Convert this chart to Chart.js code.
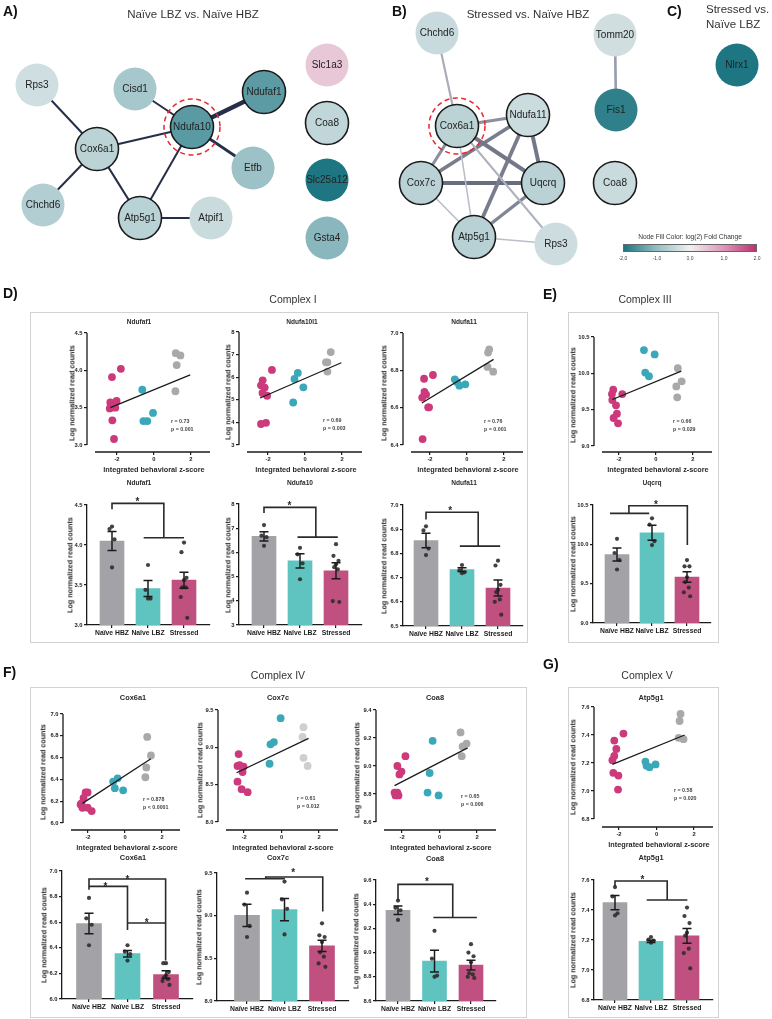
<!DOCTYPE html>
<html>
<head>
<meta charset="utf-8">
<script src="https://cdn.jsdelivr.net/npm/chart.js@4.4.0/dist/chart.umd.min.js"></script>
<style>
  body { margin: 0; background: #fff; font-family: "Liberation Sans", Arial, sans-serif; }
  #fig { position: relative; width: 772px; height: 1019px; overflow: hidden; background: #fff; }
  .t { position: absolute; white-space: nowrap; color: #2a2a2a; line-height: 1; will-change: transform; }
  .box { position: absolute; border: 1px solid #d2d2d2; box-sizing: border-box; }
  canvas { position: absolute; }
</style>
</head>
<body>
<div id="fig"></div>
<script>
// ---------- data ----------
const GROUPS = ['Naïve HBZ', 'Naïve LBZ', 'Stressed'];
const Z_TICKS = [-2, 0, 2];

// A) Naive LBZ vs Naive HBZ network (layout in px, log2 fold change, outlined = module member)
const netA_genes = ['Rps3', 'Cisd1', 'Ndufaf1', 'Ndufa10', 'Cox6a1', 'Etfb', 'Chchd6', 'Atp5g1', 'Atpif1', 'Slc1a3', 'Coa8', 'Slc25a12', 'Gsta4'];
const netA_x = [37, 135, 264, 192, 97, 253, 43, 140, 211, 327, 327, 327, 327];
const netA_y = [85, 89, 92, 127, 149, 168, 205, 218, 218, 65, 123, 180, 238];
const netA_log2fc = [-0.37, -0.82, -1.48, -1.5, -0.58, -0.93, -0.69, -0.61, -0.43, 0.47, -0.53, -2.0, -1.1];
const netA_outlined = [0, 0, 1, 1, 1, 0, 0, 1, 0, 0, 1, 0, 0];
const netA_edges = [['Rps3', 'Cox6a1', 0.15], ['Cisd1', 'Ndufa10', 0.15], ['Ndufaf1', 'Ndufa10', 1.0], ['Cox6a1', 'Ndufa10', 0.25],
  ['Ndufa10', 'Etfb', 0.4], ['Ndufa10', 'Atp5g1', 0.15], ['Cox6a1', 'Chchd6', 0.15], ['Cox6a1', 'Atp5g1', 0.2], ['Atp5g1', 'Atpif1', 0.15]];

// B) Stressed vs Naive HBZ network
const netB_genes = ['Chchd6', 'Tomm20', 'Fis1', 'Cox6a1', 'Ndufa11', 'Cox7c', 'Uqcrq', 'Coa8', 'Atp5g1', 'Rps3'];
const netB_x = [437, 615, 616, 457, 528, 421, 543, 615, 474, 556];
const netB_y = [33, 35, 110, 126, 115, 183, 183, 183, 237, 244];
const netB_log2fc = [-0.44, -0.36, -1.86, -0.58, -0.41, -0.6, -0.6, -0.43, -0.63, -0.39];
const netB_outlined = [0, 0, 0, 1, 1, 1, 1, 1, 1, 0];
const netB_edges = [['Chchd6', 'Cox6a1', 0.3], ['Tomm20', 'Fis1', 0.45], ['Cox6a1', 'Ndufa11', 0.6], ['Cox6a1', 'Cox7c', 0.6],
  ['Cox6a1', 'Uqcrq', 0.85], ['Cox6a1', 'Atp5g1', 0.12], ['Cox6a1', 'Rps3', 0.25], ['Ndufa11', 'Cox7c', 0.8], ['Ndufa11', 'Uqcrq', 0.85],
  ['Ndufa11', 'Atp5g1', 0.8], ['Cox7c', 'Uqcrq', 0.95], ['Cox7c', 'Atp5g1', 0.12], ['Uqcrq', 'Atp5g1', 0.7], ['Atp5g1', 'Rps3', 0.1]];

// C) Stressed vs Naive LBZ
const netC_genes = ['Nlrx1'];
const netC_x = [737];
const netC_y = [65];
const netC_log2fc = [-2.0];
const netC_outlined = [0];

const FC_LEGEND_TICKS = ['-2,0', '-1,0', '0,0', '1,0', '2,0'];

// Scatter data: [integrated behavioral z-score, log normalized read counts]
const ndufaf1_sc_stressed = [[-2.27, 3.91], [-1.79, 4.02], [-2.36, 3.57], [-2.02, 3.59], [-2.39, 3.49], [-2.09, 3.5], [-2.25, 3.33], [-2.16, 3.08]];
const ndufaf1_sc_lbz = [[-0.63, 3.74], [-0.05, 3.43], [-0.57, 3.32], [-0.36, 3.32]];
const ndufaf1_sc_hbz = [[1.18, 4.23], [1.43, 4.2], [1.23, 4.07], [1.16, 3.72]];
const ndufaf1_fit = [[-2.36, 3.5], [1.96, 3.94]];

const ndufa10l1_sc_stressed = [[-1.79, 6.32], [-2.29, 5.86], [-2.38, 5.64], [-2.18, 5.54], [-2.3, 5.3], [-2.05, 5.18], [-2.38, 3.93], [-2.11, 3.98]];
const ndufa10l1_sc_lbz = [[-0.39, 6.19], [-0.57, 5.92], [-0.09, 5.55], [-0.64, 4.88]];
const ndufa10l1_sc_hbz = [[1.39, 7.11], [1.13, 6.66], [1.21, 6.66], [1.21, 6.25]];
const ndufa10l1_fit = [[-2.43, 5.08], [1.96, 6.64]];

const ndufa11_sc_stressed = [[-2.32, 6.755], [-1.84, 6.775], [-2.3, 6.684], [-2.21, 6.67], [-2.42, 6.654], [-2.1, 6.602], [-2.05, 6.602], [-2.4, 6.432]];
const ndufa11_sc_lbz = [[-0.66, 6.752], [-0.54, 6.738], [-0.41, 6.718], [-0.09, 6.725]];
const ndufa11_sc_hbz = [[1.2, 6.912], [1.14, 6.895], [1.11, 6.818], [1.42, 6.793]];
const ndufa11_fit = [[-2.44, 6.625], [1.44, 6.859]];

const uqcrq_sc_stressed = [[-2.31, 9.775], [-2.38, 9.715], [-1.82, 9.715], [-2.36, 9.633], [-2.16, 9.56], [-2.11, 9.445], [-2.29, 9.385], [-2.05, 9.312]];
const uqcrq_sc_lbz = [[-0.65, 10.32], [-0.07, 10.26], [-0.58, 10.01], [-0.38, 9.96]];
const uqcrq_sc_hbz = [[1.18, 10.07], [1.39, 9.89], [1.1, 9.82], [1.15, 9.67]];
const uqcrq_fit = [[-2.36, 9.64], [1.37, 10.03]];

const cox6a1_sc_stressed = [[-2.13, 6.28], [-2.02, 6.28], [-2.24, 6.23], [-2.35, 6.18], [-2.4, 6.17], [-2.3, 6.14], [-2.02, 6.14], [-1.8, 6.11]];
const cox6a1_sc_lbz = [[-0.64, 6.38], [-0.4, 6.41], [-0.55, 6.32], [-0.1, 6.3]];
const cox6a1_sc_hbz = [[1.2, 6.79], [1.4, 6.62], [1.15, 6.51], [1.1, 6.42]];
const cox6a1_fit = [[-2.3, 6.18], [1.4, 6.59]];

const cox7c_sc_stressed = [[-2.29, 8.91], [-2.35, 8.75], [-2.24, 8.76], [-2.03, 8.74], [-2.08, 8.67], [-2.35, 8.54], [-2.13, 8.44], [-1.81, 8.4]];
const cox7c_sc_lbz = [[-0.05, 9.39], [-0.41, 9.07], [-0.59, 9.04], [-0.64, 8.78]];
const cox7c_sc_hbz = [[1.17, 9.27], [1.12, 9.14], [1.17, 8.86], [1.39, 8.75]];
const cox7c_fit = [[-2.4, 8.66], [1.44, 9.12]];

const coa8_sc_stressed = [[-1.82, 9.07], [-2.25, 9.0], [-2.03, 8.96], [-2.14, 8.94], [-2.4, 8.81], [-2.25, 8.81], [-2.19, 8.79], [-2.35, 8.79]];
const coa8_sc_lbz = [[-0.37, 9.18], [-0.53, 8.95], [-0.64, 8.81], [-0.05, 8.79]];
const coa8_sc_hbz = [[1.12, 9.24], [1.23, 9.14], [1.44, 9.16], [1.18, 9.07]];
const coa8_fit = [[-2.4, 8.86], [1.5, 9.13]];

const atp5g1_sc_stressed = [[-1.76, 7.41], [-2.25, 7.36], [-2.14, 7.3], [-2.25, 7.25], [-2.35, 7.22], [-2.3, 7.13], [-2.03, 7.11], [-2.05, 7.01]];
const atp5g1_sc_lbz = [[-0.59, 7.21], [-0.53, 7.18], [-0.37, 7.17], [-0.05, 7.19]];
const atp5g1_sc_hbz = [[1.28, 7.55], [1.23, 7.5], [1.18, 7.38], [1.44, 7.37]];
const atp5g1_fit = [[-2.35, 7.19], [1.5, 7.4]];

// Bar data: group means, SEM, individual animals [HBZ, LBZ, Stressed]
const ndufaf1_means = [4.05, 3.455, 3.56];
const ndufaf1_sem = [0.12, 0.1, 0.1];
const ndufaf1_animals = [[4.23, 4.2, 4.07, 3.72], [3.75, 3.44, 3.33, 3.33], [4.03, 3.91, 3.59, 3.56, 3.47, 3.47, 3.35, 3.09]];
const ndufaf1_sig = [[[0, 4.446], [0, 4.52], [1.44, 4.52], [1.44, 4.09]], [[0.88, 4.09], [2.0, 4.09]]];
const ndufaf1_stars = [[0.71, 4.57]];

const ndufa10_means = [6.66, 5.65, 5.24];
const ndufa10_sem = [0.19, 0.29, 0.33];
const ndufa10_animals = [[7.13, 6.69, 6.63, 6.27], [6.19, 5.92, 5.55, 4.89], [6.34, 5.86, 5.65, 5.51, 5.39, 5.3, 3.99, 3.95]];
const ndufa10_sig = [[[0, 7.627], [0, 7.862], [1.44, 7.862], [1.44, 6.633]], [[0.93, 6.633], [2.05, 6.633]]];
const ndufa10_stars = [[0.71, 8.04]];

const ndufa11_means = [6.853, 6.733, 6.657];
const ndufa11_sem = [0.03, 0.008, 0.033];
const ndufa11_animals = [[6.912, 6.895, 6.82, 6.793], [6.752, 6.73, 6.722, 6.718], [6.77, 6.75, 6.67, 6.65, 6.64, 6.61, 6.6, 6.547]];
const ndufa11_sig = [[[0, 6.94], [0, 6.97], [1.45, 6.97], [1.45, 6.83]], [[0.94, 6.83], [2.06, 6.83]]];
const ndufa11_stars = [[0.67, 6.986]];

const uqcrq_means = [9.87, 10.147, 9.585];
const uqcrq_sem = [0.083, 0.095, 0.066];
const uqcrq_animals = [[10.07, 9.89, 9.8, 9.68], [10.33, 10.25, 10.04, 9.99], [9.8, 9.72, 9.72, 9.58, 9.52, 9.45, 9.39, 9.34]];
const uqcrq_sig = [[[-0.2, 10.394], [0.92, 10.394]], [[0.34, 10.394], [0.34, 10.49], [2.01, 10.49], [2.01, 9.99]]];
const uqcrq_stars = [[1.11, 10.54]];

const cox6a1_means = [6.59, 6.354, 6.19];
const cox6a1_sem = [0.08, 0.025, 0.03];
const cox6a1_animals = [[6.79, 6.63, 6.58, 6.42], [6.42, 6.37, 6.35, 6.3], [6.28, 6.28, 6.21, 6.185, 6.17, 6.155, 6.14, 6.11]];
const cox6a1_sig = [[[0, 6.854], [0, 6.9375], [1.99, 6.9375], [1.99, 6.3]], [[0, 6.88], [1, 6.88], [1, 6.54]], [[1, 6.594], [1.99, 6.594]]];
const cox6a1_stars = [[1.0, 6.953], [0.43, 6.898], [1.5, 6.615]];

const cox7c_means = [9.003, 9.07, 8.646];
const cox7c_sem = [0.13, 0.13, 0.065];
const cox7c_animals = [[9.27, 9.13, 8.88, 8.75], [9.4, 9.19, 9.08, 8.78], [8.91, 8.77, 8.75, 8.69, 8.57, 8.52, 8.44, 8.4]];
const cox7c_sig = [[[-0.05, 9.433], [1.01, 9.433]], [[0.5, 9.433], [0.5, 9.453], [2.02, 9.453], [2.02, 9.05]]];
const cox7c_stars = [[1.23, 9.54]];

const coa8_means = [9.35, 8.93, 8.897];
const coa8_sem = [0.035, 0.09, 0.04];
const coa8_animals = [[9.43, 9.37, 9.35, 9.27], [9.18, 8.95, 8.81, 8.8], [9.07, 9.0, 8.97, 8.92, 8.83, 8.82, 8.8, 8.79]];
const coa8_sig = [[[0, 9.434], [0, 9.564], [1.5, 9.564], [1.5, 9.29]], [[0.97, 9.29], [2.16, 9.29]]];
const coa8_stars = [[0.79, 9.605]];

const atp5g1_means = [7.449, 7.191, 7.227];
const atp5g1_sem = [0.048, 0.008, 0.049];
const atp5g1_animals = [[7.553, 7.49, 7.378, 7.364], [7.22, 7.202, 7.196, 7.182], [7.416, 7.36, 7.313, 7.249, 7.229, 7.142, 7.113, 7.011]];
const atp5g1_sig = [[[0, 7.556], [0, 7.593], [1.45, 7.593], [1.45, 7.467]], [[0.88, 7.467], [2.01, 7.467]]];
const atp5g1_stars = [[0.76, 7.618]];

// ---------- styling ----------
const INK = '#1b1b1b';
const FONT = '"Liberation Sans", Arial, sans-serif';
const PT_HBZ = '#a9a9ab';
const PT_HBZ_LIGHT = '#cfcfd1';
const PT_LBZ = '#3aa8b8';
const PT_STRESSED = '#cc3a7c';
const BAR_COLORS = ['#a3a3a7', '#5fc3c0', '#c0507f'];
const DOT_JITTER = [0, -0.07, 0.07, 0, -0.05, 0.05, -0.09, 0.09];
const FC_STOPS = [[-2, [30, 118, 130]], [-1, [150, 190, 196]], [0, [240, 240, 240]], [1, [222, 152, 186]], [2, [192, 48, 110]]];

Chart.defaults.font.family = FONT;

function fcColor(v) {
  for (let i = 0; i < FC_STOPS.length - 1; i++) {
    const [a, ca] = FC_STOPS[i];
    const [b, cb] = FC_STOPS[i + 1];
    if (v <= b || i === FC_STOPS.length - 2) {
      const t = Math.max(0, Math.min(1, (v - a) / (b - a)));
      const c = ca.map((x, k) => Math.round(x + (cb[k] - x) * t));
      return `rgb(${c[0]},${c[1]},${c[2]})`;
    }
  }
}

const fig = document.getElementById('fig');

function addText(str, x, y, size, o = {}) {
  const d = document.createElement('div');
  d.className = 't';
  d.textContent = str;
  d.style.fontSize = size + 'px';
  if (o.bold) d.style.fontWeight = 'bold';
  if (o.color) d.style.color = o.color;
  d.style.left = x + 'px';
  d.style.top = y + 'px';
  const ax = o.align === 'left' ? '0' : '-50%';
  d.style.transform = `translate(${ax}, -50%)` + (o.rotate ? ` rotate(${o.rotate}deg)` : '');
  fig.appendChild(d);
}

function addBox(l, t, r, b) {
  const d = document.createElement('div');
  d.className = 'box';
  Object.assign(d.style, { left: l + 'px', top: t + 'px', width: (r - l) + 'px', height: (b - t) + 'px' });
  fig.appendChild(d);
}

function addCanvas(l, t, w, h) {
  const c = document.createElement('canvas');
  c.width = w;
  c.height = h;
  c.style.left = l + 'px';
  c.style.top = t + 'px';
  fig.appendChild(c);
  return c;
}

// ---------- plugins ----------
const nodePlugin = {
  id: 'nodeLabels',
  afterDatasetsDraw(chart) {
    const ctx = chart.ctx;
    chart.data.datasets.forEach((ds, i) => {
      if (!ds.nodeNames) return;
      const meta = chart.getDatasetMeta(i);
      ctx.save();
      ctx.font = `10px ${FONT}`;
      ctx.fillStyle = '#222';
      ctx.textAlign = 'center';
      ctx.textBaseline = 'middle';
      meta.data.forEach((pt, k) => {
        ctx.fillText(ds.nodeNames[k], pt.x, pt.y + 0.5);
        if (ds.nodeNames[k] === ds.highlight) {
          ctx.strokeStyle = '#e8282c';
          ctx.lineWidth = 1.5;
          ctx.setLineDash([5, 3.5]);
          ctx.beginPath();
          ctx.arc(pt.x, pt.y, 28, 0, Math.PI * 2);
          ctx.stroke();
          ctx.setLineDash([]);
        }
      });
      ctx.restore();
    });
  }
};

const errorBarPlugin = {
  id: 'errorBars',
  afterDatasetsDraw(chart) {
    const ctx = chart.ctx;
    const y = chart.scales.y;
    chart.data.datasets.forEach((ds, i) => {
      if (!ds.errors) return;
      const meta = chart.getDatasetMeta(i);
      ctx.save();
      ctx.strokeStyle = INK;
      ctx.lineWidth = 1.5;
      meta.data.forEach((bar, k) => {
        const m = ds.data[k].y;
        const e = ds.errors[k];
        const y1 = y.getPixelForValue(m + e);
        const y2 = y.getPixelForValue(m - e);
        ctx.beginPath();
        ctx.moveTo(bar.x, y1); ctx.lineTo(bar.x, y2);
        ctx.moveTo(bar.x - 4.5, y1); ctx.lineTo(bar.x + 4.5, y1);
        ctx.moveTo(bar.x - 4.5, y2); ctx.lineTo(bar.x + 4.5, y2);
        ctx.stroke();
      });
      ctx.restore();
    });
  }
};

const bracketPlugin = {
  id: 'brackets',
  afterDatasetsDraw(chart, args, opts) {
    if (!opts || !opts.paths) return;
    const { ctx, scales: { x, y } } = chart;
    ctx.save();
    ctx.strokeStyle = '#2a2a2a';
    ctx.lineWidth = 1.6;
    opts.paths.forEach(path => {
      ctx.beginPath();
      path.forEach(([a, b], k) => {
        const px = x.getPixelForValue(a);
        const py = y.getPixelForValue(b);
        if (k) ctx.lineTo(px, py); else ctx.moveTo(px, py);
      });
      ctx.stroke();
    });
    ctx.fillStyle = '#2a2a2a';
    ctx.font = `bold 10px ${FONT}`;
    ctx.textAlign = 'center';
    ctx.textBaseline = 'alphabetic';
    opts.stars.forEach(([a, b]) => ctx.fillText('*', x.getPixelForValue(a), y.getPixelForValue(b) + 6));
    ctx.restore();
  }
};

// Prism-style detached axes for the correlation plots
const detachedAxesPlugin = {
  id: 'detachedAxes',
  afterDraw(chart, args, opts) {
    if (!opts || !opts.on) return;
    const { ctx, chartArea: a, scales: { y } } = chart;
    const ticks = y.ticks.map(t => t.value);
    ctx.save();
    ctx.strokeStyle = INK;
    ctx.lineWidth = 1.3;
    ctx.beginPath();
    ctx.moveTo(a.left, y.getPixelForValue(Math.max(...ticks)));
    ctx.lineTo(a.left, y.getPixelForValue(Math.min(...ticks)));
    ctx.moveTo(a.left + opts.gap, a.bottom);
    ctx.lineTo(a.right, a.bottom);
    ctx.stroke();
    ctx.restore();
  }
};

Chart.register(nodePlugin, errorBarPlugin, bracketPlugin, detachedAxesPlugin);

// ---------- builders ----------
function network({ left, top, w, h, genes, xs, ys, fc, outlined, edges = [], edgeColor, edgeWidth, highlight }) {
  const cv = addCanvas(left, top, w, h);
  const idx = Object.fromEntries(genes.map((g, i) => [g, i]));
  const edgeSets = edges.map(([a, b, s]) => ({
    data: [{ x: xs[idx[a]], y: ys[idx[a]] }, { x: xs[idx[b]], y: ys[idx[b]] }],
    showLine: true, pointRadius: 0, borderColor: edgeColor(s), borderWidth: edgeWidth(s), order: 2, clip: false
  }));
  const nodeSet = {
    data: genes.map((g, i) => ({ x: xs[i], y: ys[i] })),
    nodeNames: genes, highlight,
    pointRadius: 21.5,
    pointBackgroundColor: fc.map(fcColor),
    pointBorderColor: INK,
    pointBorderWidth: outlined.map(o => (o ? 1.6 : 0)),
    order: 1, clip: false
  };
  new Chart(cv, {
    type: 'scatter',
    data: { datasets: [nodeSet, ...edgeSets] },
    options: {
      responsive: false, animation: false, events: [],
      layout: { padding: 0, autoPadding: false },
      plugins: { legend: { display: false }, tooltip: { enabled: false } },
      scales: {
        x: { display: false, min: left, max: left + w },
        y: { display: false, min: top, max: top + h, reverse: true }
      }
    }
  });
}

function axisOptions(p, yW, xH, padT, padR, xTickValues, xLabel, xFont, detached) {
  const tickFont = { family: FONT, size: 5.8, weight: 'bold' };
  return {
    responsive: false, animation: false, events: [],
    layout: { padding: { top: padT, right: padR, left: 0, bottom: 0 }, autoPadding: false },
    plugins: {
      legend: { display: false }, tooltip: { enabled: false },
      brackets: p.sig ? { paths: p.sig, stars: p.stars } : {},
      detachedAxes: { on: detached, gap: 8 }
    },
    scales: {
      x: {
        type: 'linear', min: p.xMin, max: p.xMax, offset: false,
        afterBuildTicks: s => { s.ticks = xTickValues.map(v => ({ value: v })); },
        afterFit: s => { s.height = xH; },
        ticks: { font: xFont, color: INK, padding: 1, maxRotation: 0, autoSkip: false, callback: xLabel },
        grid: { offset: false, drawOnChartArea: false, tickLength: 3, color: INK, lineWidth: 1.2 },
        border: { display: !detached, color: INK, width: 1.3 }
      },
      y: {
        min: p.yMin, max: p.yMax,
        afterBuildTicks: s => { s.ticks = p.yTicks.map(v => ({ value: v })); },
        afterFit: s => { s.width = yW; },
        ticks: { font: tickFont, color: INK, padding: 1.5, callback: v => v.toFixed(p.dec) },
        grid: { drawOnChartArea: false, tickLength: 3, color: INK, lineWidth: 1.2 },
        border: { display: !detached, color: INK, width: 1.3 }
      }
    }
  };
}

function scatterPlot(p) {
  const yW = 22, xH = 14, padT = 6, padR = 6;
  const cv = addCanvas(p.L - yW, p.T - padT, yW + p.R - p.L + padR, padT + p.B - p.T + xH);
  const pts = (arr, color) => ({
    data: arr.map(([x, y]) => ({ x, y })), backgroundColor: color, borderWidth: 0, pointRadius: 3.9, order: 2, clip: false
  });
  new Chart(cv, {
    type: 'scatter',
    data: {
      datasets: [
        { data: p.fit.map(([x, y]) => ({ x, y })), showLine: true, borderColor: INK, borderWidth: 1.3, pointRadius: 0, order: 0, clip: false },
        pts(p.hbz, p.hbzColor || PT_HBZ), pts(p.lbz, PT_LBZ), pts(p.stressed, PT_STRESSED)
      ]
    },
    options: axisOptions(p, yW, xH, padT, padR, Z_TICKS, v => String(v), { family: FONT, size: 5.8, weight: 'bold' }, true)
  });
  if (p.title) addText(p.title, p.titleX, p.titleY, p.titleSize, { bold: true });
  addText('Log normalized read counts', p.yTitleX, (p.T + p.B) / 2, 7.2, { bold: true, rotate: -90 });
  addText('Integrated behavioral z-score', (p.L + 10 + p.R) / 2, p.B + 18, 7.3, { bold: true });
  addText(p.r, p.rpX, p.rpY, 5.3, { bold: true, align: 'left', color: '#444' });
  addText(p.p, p.rpX, p.rpY + 7.5, 5.3, { bold: true, align: 'left', color: '#444' });
}

function barPlot(p) {
  const yW = 22, xH = 14, padT = 14, padR = 6;
  const q = Object.assign({}, p, { xMin: (p.L - p.c0) / p.step, xMax: (p.R - p.c0) / p.step });
  const cv = addCanvas(p.L - yW, p.T - padT, yW + p.R - p.L + padR, padT + p.B - p.T + xH);
  const dots = [];
  p.animals.forEach((grp, g) => grp.forEach((v, k) => dots.push({ x: g + DOT_JITTER[k % DOT_JITTER.length], y: v })));
  new Chart(cv, {
    type: 'bar',
    data: {
      datasets: [
        { type: 'bar', data: p.means.map((m, i) => ({ x: i, y: m })), backgroundColor: BAR_COLORS, barThickness: p.barW || 24, errors: p.sem, order: 2 },
        { type: 'scatter', data: dots, backgroundColor: 'rgba(45,45,45,0.9)', borderWidth: 0, pointRadius: 2.1, order: 1, clip: false }
      ]
    },
    options: axisOptions(q, yW, xH, padT, padR, [0, 1, 2], v => GROUPS[v], { family: FONT, size: 6.8, weight: 'bold' }, false)
  });
  addText(p.title, p.titleX, p.titleY, p.titleSize, { bold: true });
  addText('Log normalized read counts', p.yTitleX, (p.T + p.B) / 2, 7.2, { bold: true, rotate: -90 });
}

// ---------- layout ----------
// panel labels and headings
addText('A)', 3, 11, 14, { bold: true, align: 'left', color: '#111' });
addText('B)', 392, 11, 14, { bold: true, align: 'left', color: '#111' });
addText('C)', 667, 11, 14, { bold: true, align: 'left', color: '#111' });
addText('D)', 3, 293, 14, { bold: true, align: 'left', color: '#111' });
addText('E)', 543, 294, 14, { bold: true, align: 'left', color: '#111' });
addText('F)', 3, 672, 14, { bold: true, align: 'left', color: '#111' });
addText('G)', 543, 664, 14, { bold: true, align: 'left', color: '#111' });

addText('Naïve LBZ vs. Naïve HBZ', 193, 15, 11.5, { color: '#333' });
addText('Stressed vs. Naïve HBZ', 528, 15, 11.5, { color: '#333' });
addText('Stressed vs.', 706, 10, 11.5, { align: 'left', color: '#333' });
addText('Naïve LBZ', 706, 25, 11.5, { align: 'left', color: '#333' });

addText('Complex I', 293, 299, 10.5, { color: '#333' });
addText('Complex III', 645, 299, 10.5, { color: '#333' });
addText('Complex IV', 278, 675, 10.5, { color: '#333' });
addText('Complex V', 647, 675, 10.5, { color: '#333' });

addBox(30, 312, 528, 643);
addBox(568, 312, 719, 643);
addBox(30, 687, 527, 1018);
addBox(568, 687, 719, 1018);

// networks
network({
  left: 0, top: 30, w: 390, h: 250, genes: netA_genes, xs: netA_x, ys: netA_y, fc: netA_log2fc, outlined: netA_outlined,
  edges: netA_edges, edgeColor: () => '#272e4a', edgeWidth: s => 1.6 + 2.8 * s, highlight: 'Ndufa10'
});
network({
  left: 390, top: 0, w: 270, h: 275, genes: netB_genes, xs: netB_x, ys: netB_y, fc: netB_log2fc, outlined: netB_outlined,
  edges: netB_edges,
  edgeColor: s => `rgb(${Math.round(198 - 98 * s)},${Math.round(201 - 96 * s)},${Math.round(212 - 90 * s)})`,
  edgeWidth: s => 1.2 + 3.2 * s, highlight: 'Cox6a1'
});
network({
  left: 690, top: 35, w: 82, h: 65, genes: netC_genes, xs: netC_x, ys: netC_y, fc: netC_log2fc, outlined: netC_outlined,
  edgeColor: () => '#000', edgeWidth: () => 1
});

// fold change legend
addText('Node Fill Color: log(2) Fold Change', 690, 237, 6.6, { color: '#333' });
(function () {
  const d = document.createElement('div');
  const stops = FC_STOPS.map(([v, c]) => `rgb(${c.join(',')}) ${(v + 2) * 25}%`).join(', ');
  Object.assign(d.style, {
    position: 'absolute', left: '623px', top: '244px', width: '134px', height: '8px',
    background: `linear-gradient(to right, ${stops})`, border: '0.5px solid #666', boxSizing: 'border-box'
  });
  fig.appendChild(d);
  FC_LEGEND_TICKS.forEach((t, i) => addText(t, 623 + i * 33.5, 258, 5, { color: '#444' }));
})();

// Complex I scatter
scatterPlot({ L: 87, R: 210, T: 333, B: 452, xMin: -3.62, xMax: 3.03, yMin: 2.906, yMax: 4.5, yTicks: [3.0, 3.5, 4.0, 4.5], dec: 1,
  stressed: ndufaf1_sc_stressed, lbz: ndufaf1_sc_lbz, hbz: ndufaf1_sc_hbz, fit: ndufaf1_fit,
  title: 'Ndufaf1', titleX: 139, titleY: 322, titleSize: 6.6, yTitleX: 72, r: 'r = 0.73', p: 'p = 0.001', rpX: 171, rpY: 422 });
scatterPlot({ L: 239, R: 362, T: 332, B: 452, xMin: -3.57, xMax: 3.08, yMin: 2.69, yMax: 8, yTicks: [3, 4, 5, 6, 7, 8], dec: 0,
  stressed: ndufa10l1_sc_stressed, lbz: ndufa10l1_sc_lbz, hbz: ndufa10l1_sc_hbz, fit: ndufa10l1_fit,
  title: 'Ndufa10l1', titleX: 302, titleY: 322, titleSize: 6.6, yTitleX: 228, r: 'r = 0.69', p: 'p = 0.003', rpX: 323, rpY: 421 });
scatterPlot({ L: 403, R: 523, T: 333, B: 452, xMin: -3.46, xMax: 3.03, yMin: 6.3625, yMax: 7.0, yTicks: [6.4, 6.6, 6.8, 7.0], dec: 1,
  stressed: ndufa11_sc_stressed, lbz: ndufa11_sc_lbz, hbz: ndufa11_sc_hbz, fit: ndufa11_fit,
  title: 'Ndufa11', titleX: 464, titleY: 322, titleSize: 6.6, yTitleX: 384, r: 'r = 0.76', p: 'p = 0.001', rpX: 484, rpY: 422 });
// Complex III scatter
scatterPlot({ L: 594, R: 712, T: 337, B: 452, xMin: -3.35, xMax: 3.03, yMin: 8.917, yMax: 10.5, yTicks: [9.0, 9.5, 10.0, 10.5], dec: 1,
  stressed: uqcrq_sc_stressed, lbz: uqcrq_sc_lbz, hbz: uqcrq_sc_hbz, fit: uqcrq_fit,
  yTitleX: 573, r: 'r = 0.66', p: 'p = 0.029', rpX: 673, rpY: 422 });

// Complex I / III bars
barPlot({ L: 87, R: 210, T: 505, B: 625, c0: 112, step: 36, yMin: 3, yMax: 4.5, yTicks: [3.0, 3.5, 4.0, 4.5], dec: 1,
  means: ndufaf1_means, sem: ndufaf1_sem, animals: ndufaf1_animals, sig: ndufaf1_sig, stars: ndufaf1_stars,
  title: 'Ndufaf1', titleX: 139, titleY: 483, titleSize: 6.6, yTitleX: 70 });
barPlot({ L: 239, R: 362, T: 504, B: 625, c0: 264, step: 36, yMin: 3, yMax: 8, yTicks: [3, 4, 5, 6, 7, 8], dec: 0,
  means: ndufa10_means, sem: ndufa10_sem, animals: ndufa10_animals, sig: ndufa10_sig, stars: ndufa10_stars,
  title: 'Ndufa10', titleX: 300, titleY: 483, titleSize: 6.6, yTitleX: 228 });
barPlot({ L: 403, R: 523, T: 505, B: 626, c0: 426, step: 36, yMin: 6.5, yMax: 7.0, yTicks: [6.5, 6.6, 6.7, 6.8, 6.9, 7.0], dec: 1,
  means: ndufa11_means, sem: ndufa11_sem, animals: ndufa11_animals, sig: ndufa11_sig, stars: ndufa11_stars,
  title: 'Ndufa11', titleX: 464, titleY: 483, titleSize: 6.6, yTitleX: 384 });
barPlot({ L: 593, R: 711, T: 505, B: 623, c0: 617, step: 35, yMin: 9, yMax: 10.5, yTicks: [9.0, 9.5, 10.0, 10.5], dec: 1,
  means: uqcrq_means, sem: uqcrq_sem, animals: uqcrq_animals, sig: uqcrq_sig, stars: uqcrq_stars,
  title: 'Uqcrq', titleX: 652, titleY: 483, titleSize: 6.6, yTitleX: 573 });

// Complex IV / V scatter
scatterPlot({ L: 63, R: 180, T: 714, B: 830, xMin: -3.35, xMax: 2.97, yMin: 5.936, yMax: 7.0, yTicks: [6.0, 6.2, 6.4, 6.6, 6.8, 7.0], dec: 1,
  stressed: cox6a1_sc_stressed, lbz: cox6a1_sc_lbz, hbz: cox6a1_sc_hbz, fit: cox6a1_fit,
  title: 'Cox6a1', titleX: 133, titleY: 698, titleSize: 7.4, yTitleX: 43, r: 'r = 0.878', p: 'p < 0.0001', rpX: 143, rpY: 800 });
scatterPlot({ L: 218, R: 338, T: 710, B: 830, xMin: -3.39, xMax: 3.01, yMin: 7.893, yMax: 9.5, yTicks: [8.0, 8.5, 9.0, 9.5], dec: 1,
  stressed: cox7c_sc_stressed, lbz: cox7c_sc_lbz, hbz: cox7c_sc_hbz, fit: cox7c_fit, hbzColor: PT_HBZ_LIGHT,
  title: 'Cox7c', titleX: 278, titleY: 698, titleSize: 7.4, yTitleX: 200, r: 'r = 0.61', p: 'p = 0.012', rpX: 297, rpY: 799 });
scatterPlot({ L: 376, R: 496, T: 710, B: 830, xMin: -3.39, xMax: 3.01, yMin: 8.543, yMax: 9.4, yTicks: [8.6, 8.8, 9.0, 9.2, 9.4], dec: 1,
  stressed: coa8_sc_stressed, lbz: coa8_sc_lbz, hbz: coa8_sc_hbz, fit: coa8_fit,
  title: 'Coa8', titleX: 435, titleY: 698, titleSize: 7.4, yTitleX: 357, r: 'r = 0.65', p: 'p = 0.006', rpX: 461, rpY: 797 });
scatterPlot({ L: 594, R: 713, T: 707, B: 827, xMin: -3.33, xMax: 3.01, yMin: 6.743, yMax: 7.6, yTicks: [6.8, 7.0, 7.2, 7.4, 7.6], dec: 1,
  stressed: atp5g1_sc_stressed, lbz: atp5g1_sc_lbz, hbz: atp5g1_sc_hbz, fit: atp5g1_fit,
  title: 'Atp5g1', titleX: 651, titleY: 698, titleSize: 7.4, yTitleX: 573, r: 'r = 0.58', p: 'p = 0.020', rpX: 674, rpY: 791 });

// Complex IV / V bars
barPlot({ L: 62, R: 193, T: 871, B: 999, c0: 89, step: 38.5, barW: 25, yMin: 6, yMax: 7, yTicks: [6.0, 6.2, 6.4, 6.6, 6.8, 7.0], dec: 1,
  means: cox6a1_means, sem: cox6a1_sem, animals: cox6a1_animals, sig: cox6a1_sig, stars: cox6a1_stars,
  title: 'Cox6a1', titleX: 133, titleY: 858, titleSize: 7.4, yTitleX: 44 });
barPlot({ L: 217, R: 349, T: 873, B: 1001, c0: 247, step: 37.5, barW: 25, yMin: 8, yMax: 9.5, yTicks: [8.0, 8.5, 9.0, 9.5], dec: 1,
  means: cox7c_means, sem: cox7c_sem, animals: cox7c_animals, sig: cox7c_sig, stars: cox7c_stars,
  title: 'Cox7c', titleX: 278, titleY: 858, titleSize: 7.4, yTitleX: 199 });
barPlot({ L: 376, R: 496, T: 880, B: 1001, c0: 398, step: 36.5, yMin: 8.6, yMax: 9.6, yTicks: [8.6, 8.8, 9.0, 9.2, 9.4, 9.6], dec: 1,
  means: coa8_means, sem: coa8_sem, animals: coa8_animals, sig: coa8_sig, stars: coa8_stars,
  title: 'Coa8', titleX: 435, titleY: 859, titleSize: 7.4, yTitleX: 356 });
barPlot({ L: 594, R: 713, T: 880, B: 1000, c0: 615, step: 36, yMin: 6.8, yMax: 7.6, yTicks: [6.8, 7.0, 7.2, 7.4, 7.6], dec: 1,
  means: atp5g1_means, sem: atp5g1_sem, animals: atp5g1_animals, sig: atp5g1_sig, stars: atp5g1_stars,
  title: 'Atp5g1', titleX: 651, titleY: 858, titleSize: 7.4, yTitleX: 573 });
</script>
</body>
</html>
